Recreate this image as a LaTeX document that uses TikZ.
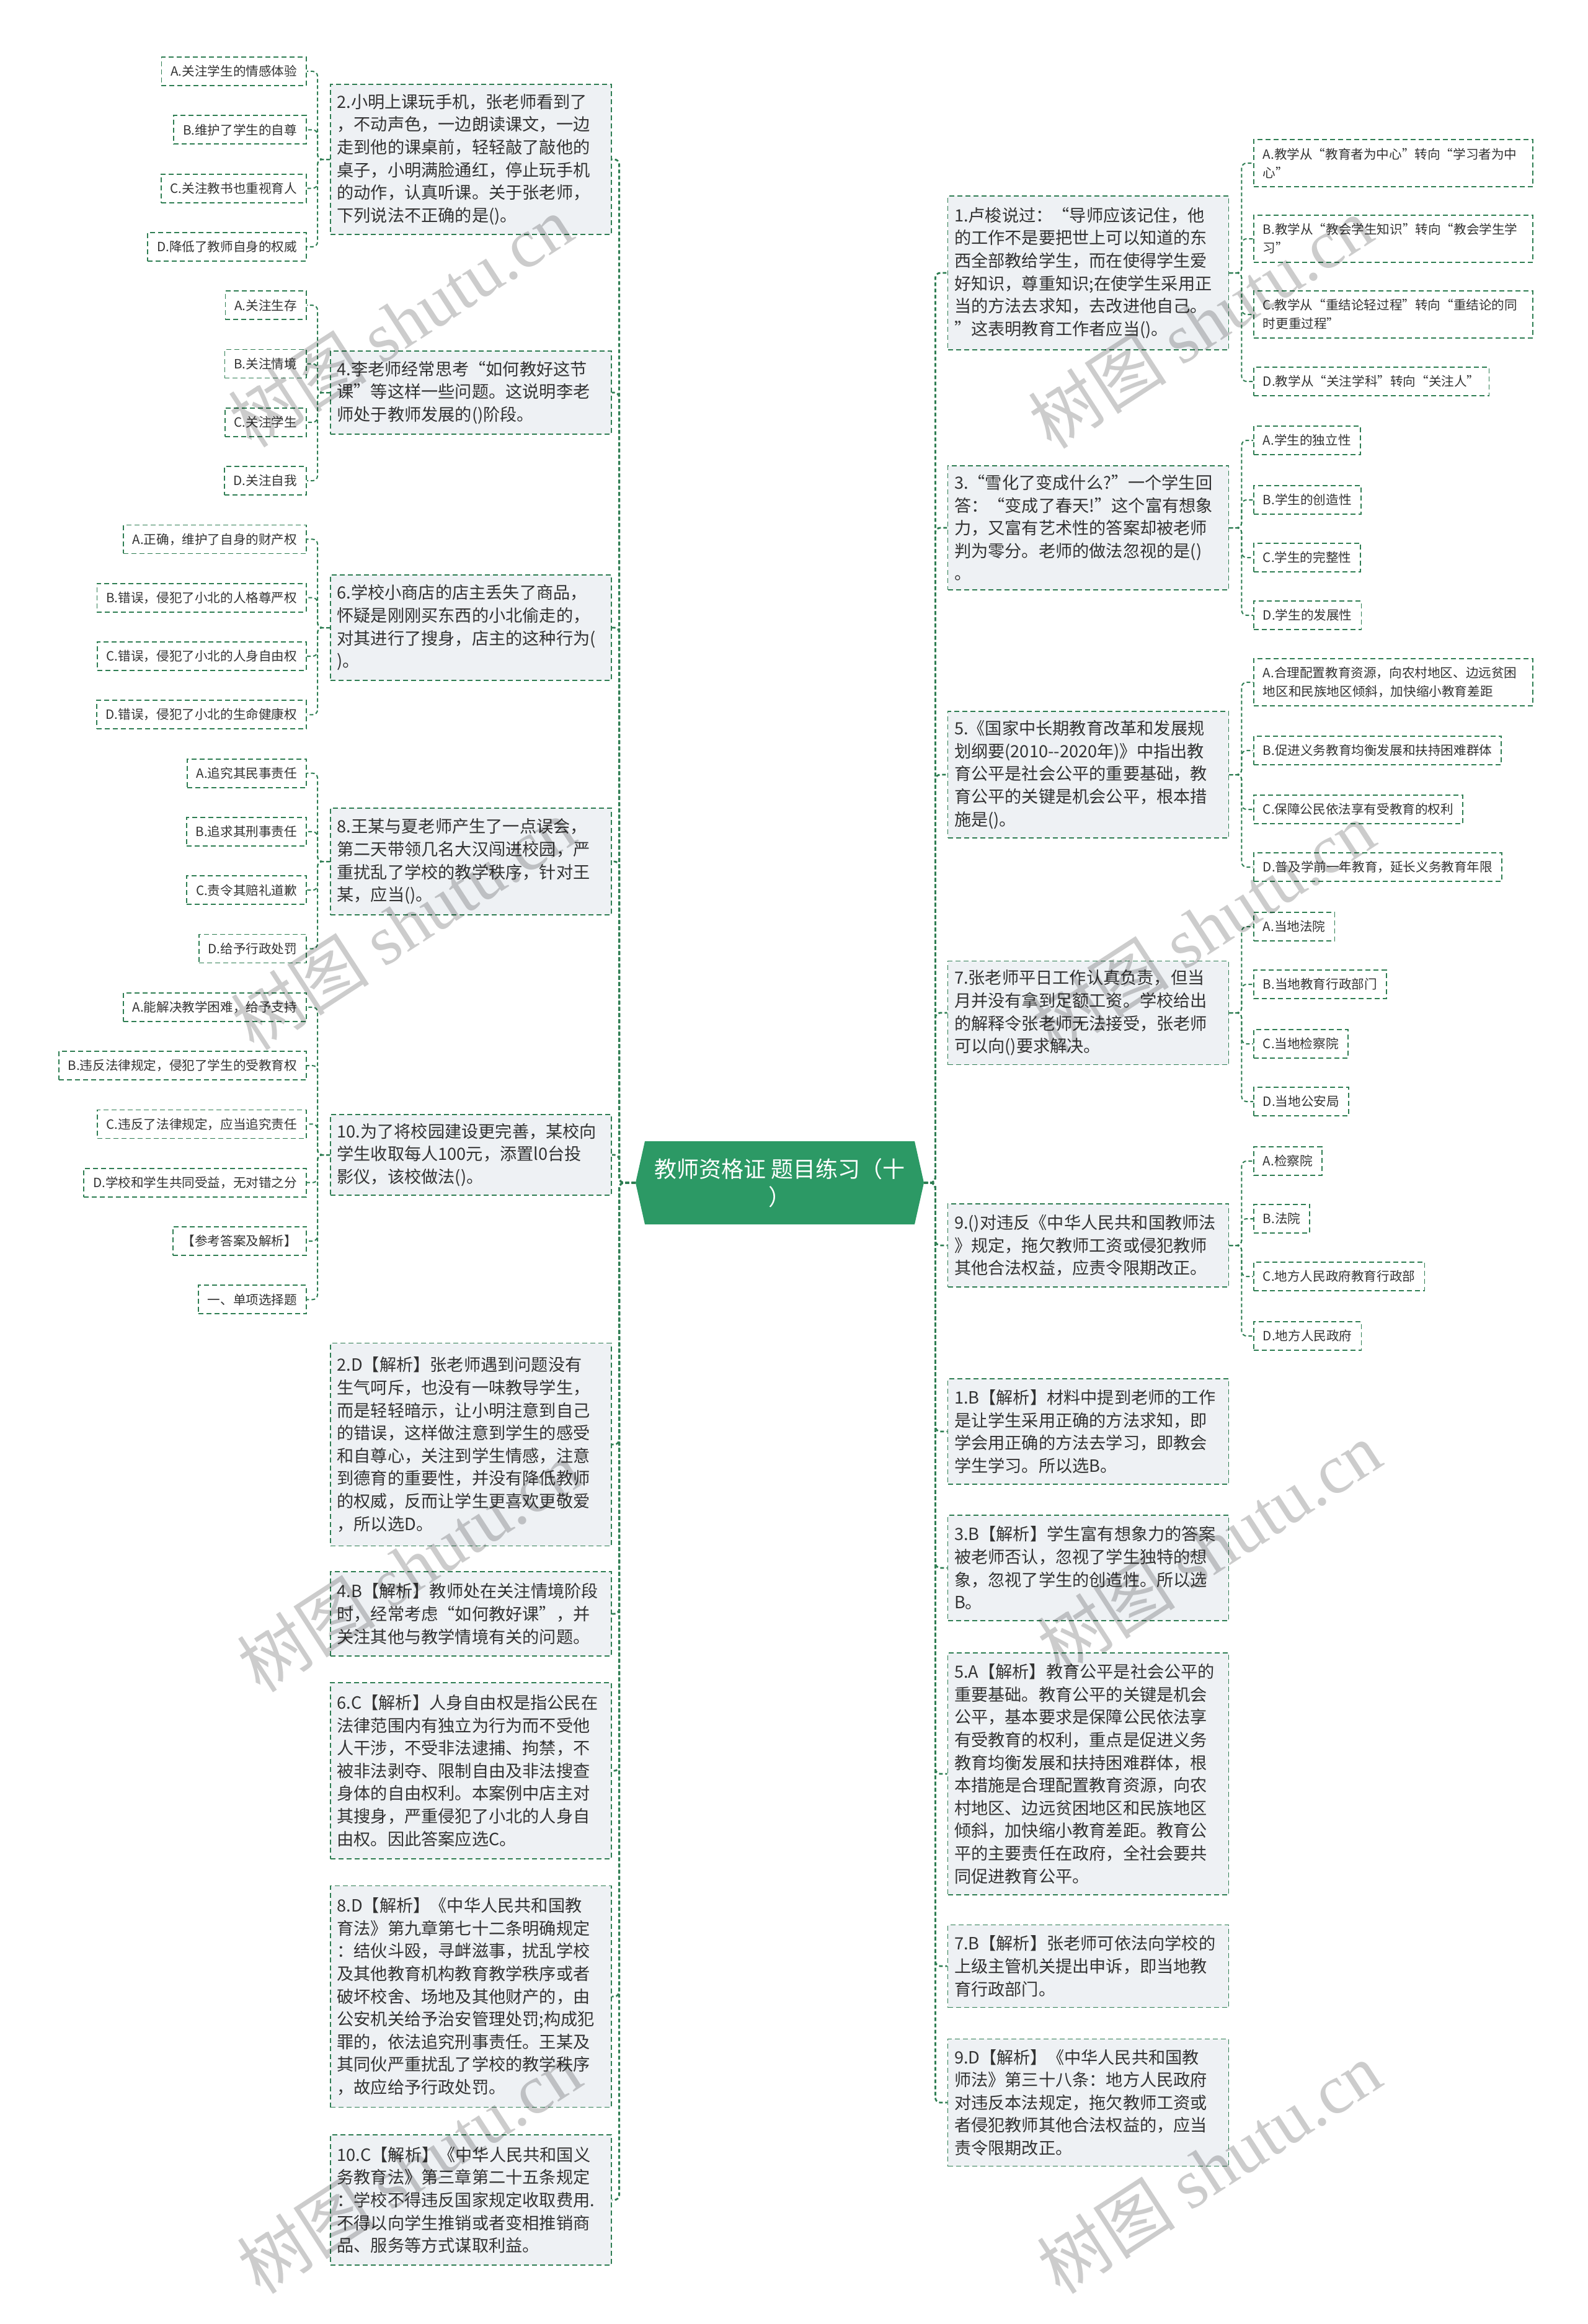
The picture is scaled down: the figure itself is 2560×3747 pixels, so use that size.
\documentclass[tikz,border=0pt]{standalone}
\usepackage{fontspec}
\setmainfont{Noto Sans CJK SC}
\newfontfamily\wmserif{Liberation Serif}
\definecolor{lc}{RGB}{46,125,82}
\definecolor{bc}{RGB}{46,125,82}
\definecolor{bf}{RGB}{238,241,244}
\definecolor{cf}{RGB}{44,153,101}
\definecolor{tc}{RGB}{51,51,51}
\newcommand\qfont{\fontsize{13.6pt}{18.3pt}\selectfont}
\newcommand\optfont{\fontsize{10.3pt}{15pt}\selectfont}
\newcommand\ctrfont{\fontsize{18pt}{22.5pt}\selectfont}
\tikzset{
  conn/.style={draw=lc, line width=1pt, dash pattern=on 3pt off 2pt, rounded corners=4pt},
  trunk/.style={conn, line width=1.4pt},
  qbox/.style={draw=bc, fill=bf, dash pattern=on 4pt off 2.5pt, line width=0.9pt, text width=216pt, inner xsep=5.25pt, inner ysep=0pt, align=left, font=\qfont, text=tc},
  obox/.style={draw=bc, fill=white, dash pattern=on 4pt off 2.5pt, line width=0.9pt, inner xsep=7.5pt, inner ysep=0pt, minimum height=23pt, font=\optfont, text=tc},
  obox2/.style={obox, text width=210pt, align=left, minimum height=38pt},
  wm/.style={text=black, text opacity=0.2, rotate=33, font=\fontsize{56pt}{58pt}\selectfont, inner sep=0pt}
}
\begin{document}
\begin{tikzpicture}[x=0.5pt, y=-0.5pt]
\useasboundingbox (0,0) rectangle (2560,3747);
\fill[white] (0,0) rectangle (2560,3747);

% center
\fill[cf] (1025,1907) -- (1040,1840) -- (1475,1840) -- (1490,1907) -- (1475,1974) -- (1040,1974) -- cycle;
\node[minimum width=232.5pt, minimum height=67pt, inner sep=0pt, text=white, font=\ctrfont, align=center] (c) at (1257.5,1907) {教师资格证 题目练习（十\\）};

% left questions
\node[qbox, minimum height=121pt] (q2) at (759.5,257) {2.小明上课玩手机，张老师看到了\\，不动声色，一边朗读课文，一边\\走到他的课桌前，轻轻敲了敲他的\\桌子，小明满脸通红，停止玩手机\\的动作，认真听课。关于张老师，\\下列说法不正确的是()。};
\node[qbox, minimum height=67pt] (q4) at (759.5,633) {4.李老师经常思考“如何教好这节\\课”等这样一些问题。这说明李老\\师处于教师发展的()阶段。};
\node[qbox, minimum height=85pt] (q6) at (759.5,1012) {6.学校小商店的店主丢失了商品，\\怀疑是刚刚买东西的小北偷走的，\\对其进行了搜身，店主的这种行为(\\)。};
\node[qbox, minimum height=86pt] (q8) at (759.5,1389) {8.王某与夏老师产生了一点误会，\\第二天带领几名大汉闯进校园，严\\重扰乱了学校的教学秩序，针对王\\某，应当()。};
\node[qbox, minimum height=65pt] (q10) at (759.5,1862) {10.为了将校园建设更完善，某校向\\学生收取每人100元，添置l0台投\\影仪，该校做法()。};
\node[qbox, minimum height=163.5pt] (a2) at (759.5,2329) {2.D【解析】张老师遇到问题没有\\生气呵斥，也没有一味教导学生，\\而是轻轻暗示，让小明注意到自己\\的错误，这样做注意到学生的感受\\和自尊心，关注到学生情感，注意\\到德育的重要性，并没有降低教师\\的权威，反而让学生更喜欢更敬爱\\，所以选D。};
\node[qbox, minimum height=68pt] (a4) at (759.5,2602) {4.B【解析】教师处在关注情境阶段\\时，经常考虑“如何教好课”，并\\关注其他与教学情境有关的问题。};
\node[qbox, minimum height=142pt] (a6) at (759.5,2855) {6.C【解析】人身自由权是指公民在\\法律范围内有独立为行为而不受他\\人干涉，不受非法逮捕、拘禁，不\\被非法剥夺、限制自由及非法搜查\\身体的自由权利。本案例中店主对\\其搜身，严重侵犯了小北的人身自\\由权。因此答案应选C。};
\node[qbox, minimum height=178.5pt] (a8) at (759.5,3219) {8.D【解析】《中华人民共和国教\\育法》第九章第七十二条明确规定\\：结伙斗殴，寻衅滋事，扰乱学校\\及其他教育机构教育教学秩序或者\\破坏校舍、场地及其他财产的，由\\公安机关给予治安管理处罚;构成犯\\罪的，依法追究刑事责任。王某及\\其同伙严重扰乱了学校的教学秩序\\，故应给予行政处罚。};
\node[qbox, minimum height=105pt] (a10) at (759.5,3547) {10.C【解析】《中华人民共和国义\\务教育法》第三章第二十五条规定\\：学校不得违反国家规定收取费用.\\不得以向学生推销或者变相推销商\\品、服务等方式谋取利益。};

% right questions
\node[qbox, minimum height=124pt] (q1) at (1755,440) {1.卢梭说过：“导师应该记住，他\\的工作不是要把世上可以知道的东\\西全部教给学生，而在使得学生爱\\好知识，尊重知识;在使学生采用正\\当的方法去求知，去改进他自己。\\”这表明教育工作者应当()。};
\node[qbox, minimum height=100pt] (q3) at (1755,851) {3.“雪化了变成什么?”一个学生回\\答：“变成了春天!”这个富有想象\\力，又富有艺术性的答案却被老师\\判为零分。老师的做法忽视的是()\\。};
\node[qbox, minimum height=102pt] (q5) at (1755,1249) {5.《国家中长期教育改革和发展规\\划纲要(2010-{}-2020年)》中指出教\\育公平是社会公平的重要基础，教\\育公平的关键是机会公平，根本措\\施是()。};
\node[qbox, minimum height=83.5pt] (q7) at (1755,1633) {7.张老师平日工作认真负责，但当\\月并没有拿到足额工资。学校给出\\的解释令张老师无法接受，张老师\\可以向()要求解决。};
\node[qbox, minimum height=67pt] (q9) at (1755,2008) {9.()对违反《中华人民共和国教师法\\》规定，拖欠教师工资或侵犯教师\\其他合法权益，应责令限期改正。};
\node[qbox, minimum height=85pt] (a1) at (1755,2308) {1.B【解析】材料中提到老师的工作\\是让学生采用正确的方法求知，即\\学会用正确的方法去学习，即教会\\学生学习。所以选B。};
\node[qbox, minimum height=85pt] (a3) at (1755,2528) {3.B【解析】学生富有想象力的答案\\被老师否认，忽视了学生独特的想\\象，忽视了学生的创造性。所以选\\B。};
\node[qbox, minimum height=195pt] (a5) at (1755,2860) {5.A【解析】教育公平是社会公平的\\重要基础。教育公平的关键是机会\\公平，基本要求是保障公民依法享\\有受教育的权利，重点是促进义务\\教育均衡发展和扶持困难群体，根\\本措施是合理配置教育资源，向农\\村地区、边远贫困地区和民族地区\\倾斜，加快缩小教育差距。教育公\\平的主要责任在政府，全社会要共\\同促进教育公平。};
\node[qbox, minimum height=66.5pt] (a7) at (1755,3170) {7.B【解析】张老师可依法向学校的\\上级主管机关提出申诉，即当地教\\育行政部门。};
\node[qbox, minimum height=102.5pt] (a9) at (1755,3390) {9.D【解析】《中华人民共和国教\\师法》第三十八条：地方人民政府\\对违反本法规定，拖欠教师工资或\\者侵犯教师其他合法权益的，应当\\责令限期改正。};

% left options
\node[obox, anchor=east] (o2a) at (495,115) {A.关注学生的情感体验};
\node[obox, anchor=east] (o2b) at (495,209.3) {B.维护了学生的自尊};
\node[obox, anchor=east] (o2c) at (495,303.6) {C.关注教书也重视育人};
\node[obox, anchor=east] (o2d) at (495,397.9) {D.降低了教师自身的权威};
\node[obox, anchor=east] (o4a) at (495,492.2) {A.关注生存};
\node[obox, anchor=east] (o4b) at (495,586.5) {B.关注情境};
\node[obox, anchor=east] (o4c) at (495,680.8) {C.关注学生};
\node[obox, anchor=east] (o4d) at (495,775.1) {D.关注自我};
\node[obox, anchor=east] (o6a) at (495,869.4) {A.正确，维护了自身的财产权};
\node[obox, anchor=east] (o6b) at (495,963.7) {B.错误，侵犯了小北的人格尊严权};
\node[obox, anchor=east] (o6c) at (495,1058) {C.错误，侵犯了小北的人身自由权};
\node[obox, anchor=east] (o6d) at (495,1152.3) {D.错误，侵犯了小北的生命健康权};
\node[obox, anchor=east] (o8a) at (495,1246.6) {A.追究其民事责任};
\node[obox, anchor=east] (o8b) at (495,1340.9) {B.追求其刑事责任};
\node[obox, anchor=east] (o8c) at (495,1435.2) {C.责令其赔礼道歉};
\node[obox, anchor=east] (o8d) at (495,1529.5) {D.给予行政处罚};
\node[obox, anchor=east] (o10a) at (495,1623.8) {A.能解决教学困难，给予支持};
\node[obox, anchor=east] (o10b) at (495,1718.1) {B.违反法律规定，侵犯了学生的受教育权};
\node[obox, anchor=east] (o10c) at (495,1812.4) {C.违反了法律规定，应当追究责任};
\node[obox, anchor=east] (o10d) at (495,1906.7) {D.学校和学生共同受益，无对错之分};
\node[obox, anchor=east] (o10e) at (495,2001) {【参考答案及解析】};
\node[obox, anchor=east] (o10f) at (495,2095.3) {一、单项选择题};

% right options
\node[obox2, anchor=west] (o1a) at (2021,263) {A.教学从“教育者为中心”转向“学习者为中\\心”};
\node[obox2, anchor=west] (o1b) at (2021,385) {B.教学从“教会学生知识”转向“教会学生学\\习”};
\node[obox2, anchor=west] (o1c) at (2021,507) {C.教学从“重结论轻过程”转向“重结论的同\\时更重过程”};
\node[obox, anchor=west] (o1d) at (2021,615) {D.教学从“关注学科”转向“关注人”};
\node[obox, anchor=west] (o3a) at (2021,710) {A.学生的独立性};
\node[obox, anchor=west] (o3b) at (2021,806) {B.学生的创造性};
\node[obox, anchor=west] (o3c) at (2021,899) {C.学生的完整性};
\node[obox, anchor=west] (o3d) at (2021,992) {D.学生的发展性};
\node[obox2, anchor=west] (o5a) at (2021,1100) {A.合理配置教育资源，向农村地区、边远贫困\\地区和民族地区倾斜，加快缩小教育差距};
\node[obox, anchor=west] (o5b) at (2021,1210) {B.促进义务教育均衡发展和扶持困难群体};
\node[obox, anchor=west] (o5c) at (2021,1305) {C.保障公民依法享有受教育的权利};
\node[obox, anchor=west] (o5d) at (2021,1398) {D.普及学前一年教育，延长义务教育年限};
\node[obox, anchor=west] (o7a) at (2021,1494) {A.当地法院};
\node[obox, anchor=west] (o7b) at (2021,1587) {B.当地教育行政部门};
\node[obox, anchor=west] (o7c) at (2021,1683) {C.当地检察院};
\node[obox, anchor=west] (o7d) at (2021,1776) {D.当地公安局};
\node[obox, anchor=west] (o9a) at (2021,1872) {A.检察院};
\node[obox, anchor=west] (o9b) at (2021,1965) {B.法院};
\node[obox, anchor=west] (o9c) at (2021,2058) {C.地方人民政府教育行政部};
\node[obox, anchor=west] (o9d) at (2021,2154) {D.地方人民政府};

% trunk connectors
\foreach \q in {q2,q4,q6,q8,q10,a2,a4,a6,a8,a10}
  \draw[trunk] (c.west) -- ++(-26,0) |- (\q.east);
\foreach \q in {q1,q3,q5,q7,q9,a1,a3,a5,a7,a9}
  \draw[trunk] (c.east) -- ++(18,0) |- (\q.west);

% option connectors
\foreach \o in {o2a,o2b,o2c,o2d} \draw[conn] (q2.west) -- ++(-20,0) |- (\o.east);
\foreach \o in {o4a,o4b,o4c,o4d} \draw[conn] (q4.west) -- ++(-20,0) |- (\o.east);
\foreach \o in {o6a,o6b,o6c,o6d} \draw[conn] (q6.west) -- ++(-20,0) |- (\o.east);
\foreach \o in {o8a,o8b,o8c,o8d} \draw[conn] (q8.west) -- ++(-20,0) |- (\o.east);
\foreach \o in {o10a,o10b,o10c,o10d,o10e,o10f} \draw[conn] (q10.west) -- ++(-20,0) |- (\o.east);
\foreach \o in {o1a,o1b,o1c,o1d} \draw[conn] (q1.east) -- ++(20,0) |- (\o.west);
\foreach \o in {o3a,o3b,o3c,o3d} \draw[conn] (q3.east) -- ++(20,0) |- (\o.west);
\foreach \o in {o5a,o5b,o5c,o5d} \draw[conn] (q5.east) -- ++(20,0) |- (\o.west);
\foreach \o in {o7a,o7b,o7c,o7d} \draw[conn] (q7.east) -- ++(20,0) |- (\o.west);
\foreach \o in {o9a,o9b,o9c,o9d} \draw[conn] (q9.east) -- ++(20,0) |- (\o.west);

% watermarks
\node[wm] (wm1) at (646,518) {树图 {\wmserif shutu.cn}};
\node[wm] (wm2) at (1936,520) {树图 {\wmserif shutu.cn}};
\node[wm] (wm3) at (650,1490) {树图 {\wmserif shutu.cn}};
\node[wm] (wm4) at (1940,1495) {树图 {\wmserif shutu.cn}};
\node[wm] (wm5) at (660,2525) {树图 {\wmserif shutu.cn}};
\node[wm] (wm6) at (1950,2495) {树图 {\wmserif shutu.cn}};
\node[wm] (wm7) at (660,3495) {树图 {\wmserif shutu.cn}};
\node[wm] (wm8) at (1950,3495) {树图 {\wmserif shutu.cn}};
\end{tikzpicture}
\end{document}
